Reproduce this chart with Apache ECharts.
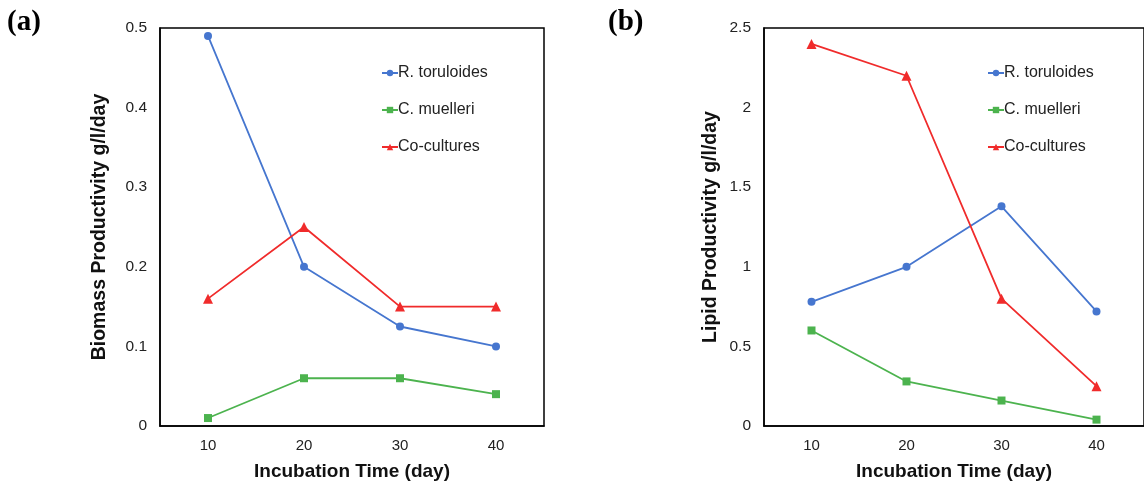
<!DOCTYPE html>
<html>
<head>
<meta charset="utf-8">
<script src="https://cdn.jsdelivr.net/npm/echarts@6/dist/echarts.min.js"></script>
<style>
  html, body { margin: 0; padding: 0; background: #fff; }
  #chart { width: 1144px; height: 489px; }
</style>
</head>
<body>
<div id="chart"></div>
<script>
// incubation days
var days = ["10", "20", "30", "40"];
var seriesNames = ["R. toruloides", "C. muelleri", "Co-cultures"];

// (a) biomass productivity g/l/day
var biomassRt = [0.49, 0.20, 0.125, 0.10];
var biomassCm = [0.01, 0.06, 0.06, 0.04];
var biomassCo = [0.16, 0.25, 0.15, 0.15];

// (b) lipid productivity g/l/day
var lipidRt = [0.78, 1.0, 1.38, 0.72];
var lipidCm = [0.6, 0.28, 0.16, 0.04];
var lipidCo = [2.4, 2.2, 0.8, 0.25];

var COLORS = ["#4676cf", "#4cb34e", "#f02b2b"];
var SYMBOLS = ["circle", "rect", "triangle"];
var SIZES = [8, 8, 10];

var FONT = "Liberation Sans";

function makeSeries(data, idx, gridIdx) {
  return {
    name: seriesNames[idx],
    type: "line",
    xAxisIndex: gridIdx,
    yAxisIndex: gridIdx,
    data: data,
    symbol: SYMBOLS[idx],
    symbolSize: SIZES[idx],
    showAllSymbol: true,
    lineStyle: { color: COLORS[idx], width: 1.8 },
    itemStyle: { color: COLORS[idx] },
    emphasis: { disabled: true },
    animation: false
  };
}

function xAxis(gridIdx) {
  return {
    type: "category",
    gridIndex: gridIdx,
    data: days,
    boundaryGap: true,
    axisLine: { show: true, lineStyle: { color: "#000", width: 1.5 } },
    axisTick: { show: false },
    axisLabel: { fontFamily: FONT, fontSize: 15, color: "#222", margin: 12 },
    name: "Incubation Time (day)",
    nameLocation: "middle",
    nameGap: 36,
    nameTextStyle: { fontFamily: FONT, fontSize: 19, fontWeight: "bold", color: "#111" }
  };
}

function yAxis(gridIdx, max, interval, name, gap) {
  return {
    type: "value",
    gridIndex: gridIdx,
    min: 0,
    max: max,
    interval: interval,
    splitLine: { show: false },
    axisLine: { show: true, lineStyle: { color: "#000", width: 1.5 } },
    axisTick: { show: false },
    axisLabel: { fontFamily: FONT, fontSize: 15.5, color: "#222", margin: 13 },
    name: name,
    nameLocation: "middle",
    nameGap: gap,
    nameTextStyle: { fontFamily: FONT, fontSize: 19.5, fontWeight: "bold", color: "#111" }
  };
}

function legend(left) {
  return {
    left: left,
    top: 60,
    orient: "vertical",
    itemWidth: 16,
    itemHeight: 8,
    itemGap: 21,
    selectedMode: false,
    textStyle: { fontFamily: FONT, fontSize: 16, color: "#222", padding: [0, 0, 0, -5] },
    data: seriesNames
  };
}

var chart = echarts.init(document.getElementById("chart"), null, { renderer: "canvas" });
chart.setOption({
  animation: false,
  color: COLORS,
  grid: [
    { left: 160, top: 28, width: 384, height: 398, show: true, borderColor: "#000", borderWidth: 1.5 },
    { left: 764, top: 28, width: 384, height: 398, show: true, borderColor: "#000", borderWidth: 1.5 }
  ],
  xAxis: [xAxis(0), xAxis(1)],
  yAxis: [
    yAxis(0, 0.5, 0.1, "Biomass Productivity g/l/day", 50),
    yAxis(1, 2.5, 0.5, "Lipid Productivity g/l/day", 43)
  ],
  legend: [legend(376), legend(982)],
  graphic: [
    { type: "text", left: 7, top: 8, style: { text: "(a)", font: "bold 29px 'Liberation Serif'", fill: "#000" } },
    { type: "text", left: 608, top: 8, style: { text: "(b)", font: "bold 29px 'Liberation Serif'", fill: "#000" } }
  ],
  series: [
    makeSeries(biomassRt, 0, 0),
    makeSeries(biomassCm, 1, 0),
    makeSeries(biomassCo, 2, 0),
    makeSeries(lipidRt, 0, 1),
    makeSeries(lipidCm, 1, 1),
    makeSeries(lipidCo, 2, 1)
  ]
});
</script>
</body>
</html>
